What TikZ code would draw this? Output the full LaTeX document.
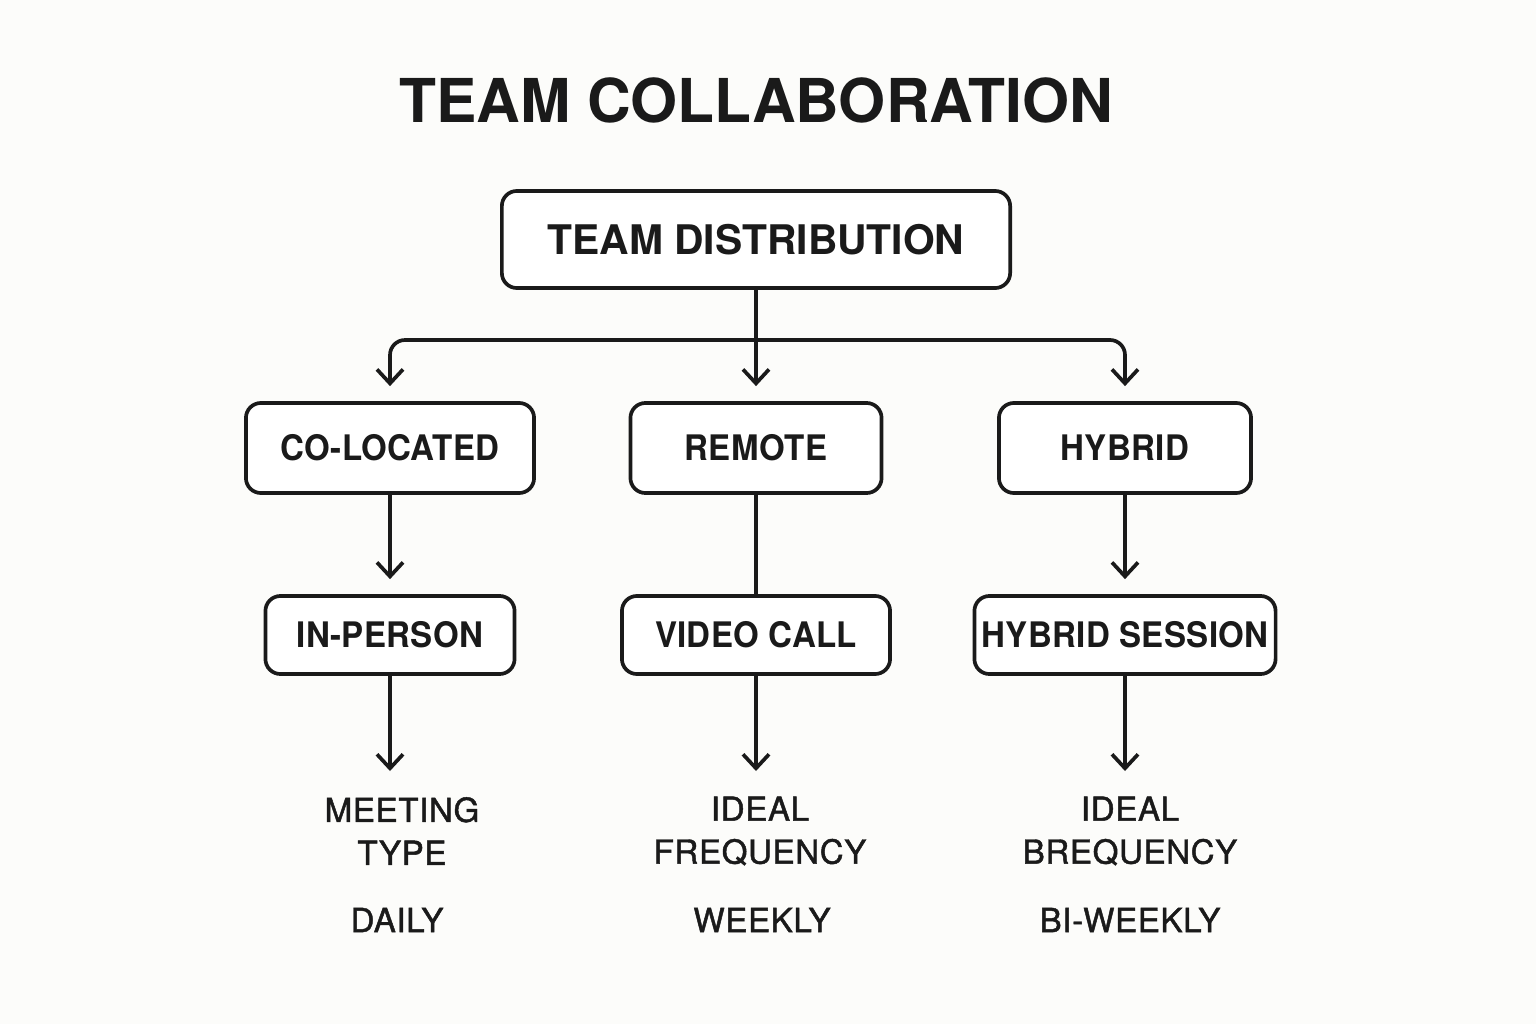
\documentclass[tikz,border=0pt]{standalone}
\usepackage{fontspec}
\setmainfont{TeX Gyre Heros}
\newfontfamily\boxfont[FakeStretch=0.94,LetterSpace=1]{TeX Gyre Heros Bold}
\newfontfamily\lblfont[FakeBold=1.4,LetterSpace=2]{TeX Gyre Heros}
\usetikzlibrary{arrows.meta}
\definecolor{ink}{RGB}{26,26,26}
\definecolor{bg}{RGB}{252,252,250}
\begin{document}
\begin{tikzpicture}[x=0.01cm,y=-0.01cm,
  ink/.style={draw=ink, line width=1.05pt},
  box/.style={ink, rounded corners=0.15cm, fill=white, inner sep=0pt, text=ink,
    font=\fontsize{10pt}{12pt}\boxfont},
  lbl/.style={text=ink, align=center, inner sep=0pt,
    font=\fontsize{9.4pt}{12.2pt}\lblfont},
  arr/.style={ink, -{Straight Barb[length=1.4mm,width=2.6mm,line width=1.05pt]}},
  gap/.style={shorten >=0.15cm}]
\fill[bg] (0,0) rectangle (1536,1024);
\useasboundingbox (0,0) rectangle (1536,1024);

\node[text=ink, font=\fontsize{17.2pt}{20pt}\selectfont\bfseries] (title) at (756,100) {TEAM COLLABORATION};

\node[box, minimum width=5.08cm, minimum height=0.97cm, font=\fontsize{11.6pt}{14pt}\selectfont\bfseries] (td) at (756,239.5) {TEAM DISTRIBUTION};

\node[box, minimum width=2.88cm, minimum height=0.90cm] (col) at (390,448) {CO-LOCATED};
\node[box, minimum width=2.51cm, minimum height=0.90cm] (rem) at (756,448) {REMOTE};
\node[box, minimum width=2.52cm, minimum height=0.90cm] (hyb) at (1125,448) {HYBRID};

\node[box, minimum width=2.49cm, minimum height=0.78cm] (inp) at (390,635) {IN-PERSON};
\node[box, minimum width=2.68cm, minimum height=0.78cm] (vid) at (756,635) {VIDEO CALL};
\node[box, minimum width=3.01cm, minimum height=0.78cm] (hs) at (1125,635) {HYBRID SESSION};

\node[lbl] (mt) at (402,831) {MEETING\\TYPE};
\node[lbl] (daily) at (397,920) {DAILY};
\node[lbl] (if1) at (760,831) {IDEAL\\FREQUENCY};
\node[lbl] (weekly) at (762,920) {WEEKLY};
\node[lbl] (if2) at (1130,831) {IDEAL\\BREQUENCY};
\node[lbl] (bw) at (1130,920) {BI-WEEKLY};

\coordinate (bar) at (756,340);
\coordinate (e1) at (390,771);
\coordinate (e2) at (756,771);
\coordinate (e3) at (1125,771);

\draw[arr, gap, rounded corners=0.15cm] (bar) -| (col.north);
\draw[arr, gap, rounded corners=0.15cm] (bar) -| (hyb.north);
\draw[arr, gap] (td.south) -- (rem.north);

\draw[arr, gap] (col.south) -- (inp.north);
\draw[ink] (rem.south) -- (vid.north);
\draw[arr, gap] (hyb.south) -- (hs.north);

\draw[arr] (inp.south) -- (e1);
\draw[arr] (vid.south) -- (e2);
\draw[arr] (hs.south) -- (e3);
\end{tikzpicture}
\end{document}
